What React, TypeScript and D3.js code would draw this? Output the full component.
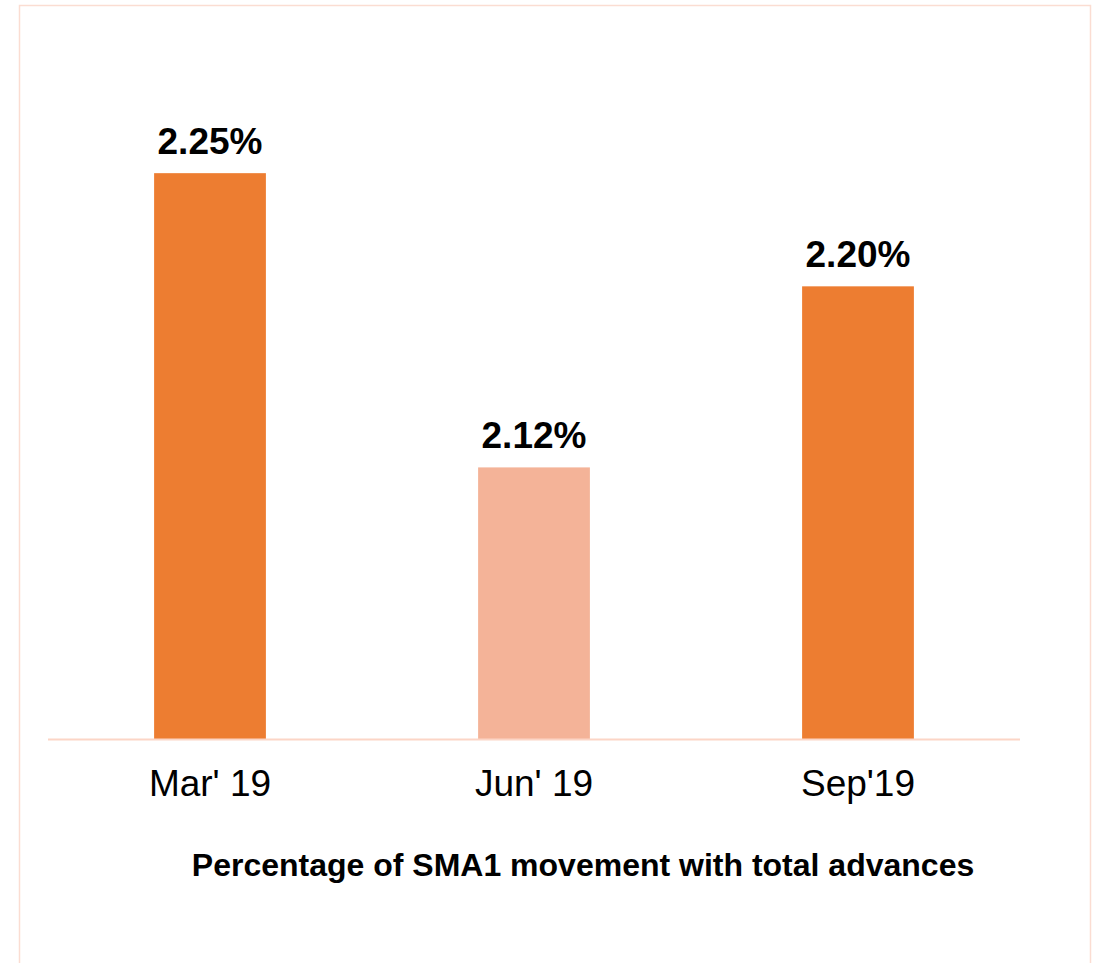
import { useEffect, useRef } from 'react'
import * as d3 from 'd3'

const categories = ["Mar' 19", "Jun' 19", "Sep'19"]
const values = [2.25, 2.12, 2.2]
const barColors = ['#ED7D31', '#F4B398', '#ED7D31']
const chartTitle = 'Percentage of SMA1 movement with total advances'

const App = () => {
  const svgRef = useRef(null)

  useEffect(() => {
    const width = 1094
    const height = 963
    const svg = d3.select(svgRef.current)
    svg.selectAll('*').remove()
    svg.attr('width', width).attr('height', height)

    const font = '"Liberation Sans", Arial, sans-serif'

    // outer frame (bottom edge runs off the picture)
    svg.append('rect')
       .attr('x', 19.5)
       .attr('y', 5.5)
       .attr('width', 1071)
       .attr('height', 1000)
       .attr('fill', 'none')
       .attr('stroke', '#FBDDD2')
       .attr('stroke-width', 1.5)

    const x = d3.scaleBand()
                .domain(categories)
                .range([48, 1020])
                .paddingInner(0.655)
                .paddingOuter(0.3275)

    const y = d3.scaleLinear()
                .domain([2.0, 2.3])
                .range([739, 60])

    const g = svg.append('g')

    g.selectAll('rect.bar')
     .data(values)
     .join('rect')
     .attr('class', 'bar')
     .attr('x', (d, i) => x(categories[i]))
     .attr('y', d => y(d))
     .attr('width', x.bandwidth())
     .attr('height', d => y(2.0) - y(d))
     .attr('fill', (d, i) => barColors[i])

    g.selectAll('text.value')
     .data(values)
     .join('text')
     .attr('class', 'value')
     .attr('x', (d, i) => x(categories[i]) + x.bandwidth() / 2)
     .attr('y', d => y(d) - 19)
     .attr('text-anchor', 'middle')
     .attr('font-family', font)
     .attr('font-weight', 'bold')
     .attr('font-size', 37)
     .attr('fill', '#000')
     .text(d => d.toFixed(2) + '%')

    // baseline
    svg.append('line')
       .attr('x1', 48)
       .attr('x2', 1020)
       .attr('y1', y(2.0) + 0.5)
       .attr('y2', y(2.0) + 0.5)
       .attr('stroke', '#FCD5C6')
       .attr('stroke-width', 2)

    const xAxis = svg.append('g')
                     .attr('transform', `translate(0,${y(2.0)})`)
                     .call(d3.axisBottom(x).tickSize(0).tickPadding(0))
    xAxis.select('.domain').remove()
    xAxis.selectAll('text')
         .attr('dy', null)
         .attr('y', 57)
         .attr('font-family', font)
         .attr('font-size', 37)
         .attr('fill', '#000')

    svg.append('text')
       .attr('x', 583)
       .attr('y', 876)
       .attr('text-anchor', 'middle')
       .attr('font-family', font)
       .attr('font-weight', 'bold')
       .attr('font-size', 32)
       .attr('fill', '#000')
       .text(chartTitle)
  }, [])

  return (
    <div style={{ position: 'absolute', left: 0, top: 0 }}>
      <svg ref={svgRef}></svg>
    </div>
  )
}

export default App
